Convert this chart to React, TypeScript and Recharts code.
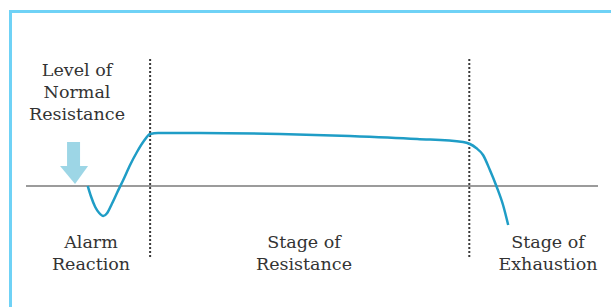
import React from 'react';
import { LineChart, Line, XAxis, YAxis, ReferenceLine, ReferenceDot } from 'recharts';

// time (arbitrary units, 0-100) and resistance relative to the normal level (0)
const time = [10.8, 11.4, 12.1, 12.8, 13.5, 14.2, 15.0, 15.9, 17.0, 18.2, 19.4, 20.6, 21.7, 23.1, 30.4, 44.4, 56.6, 68.4, 76.4, 77.6, 78.7, 79.9, 81.1, 82.3, 83.4, 84.3];
const resistance = [0, -11, -21, -27, -30, -27, -18, -7, 6, 21, 34, 45, 52, 53, 53, 52, 50, 47, 44, 42, 38, 31, 16, -1, -19, -39];

// stage boundaries on the time axis
const stageBounds = [21.7, 77.5];

const data = time.map((t, i) => ({ t, r: resistance[i] }));

const labelStyle: React.CSSProperties = {
  position: 'absolute',
  width: 140,
  textAlign: 'center',
  fontFamily: '"DejaVu Serif", serif',
  fontSize: 17.5,
  lineHeight: '22px',
  color: '#333',
};

const Arrow = (props: any) => {
  const { cx, cy } = props;
  return (
    <g opacity={0.7} fill="#74c6dc">
      <rect x={cx - 7} y={cy - 23} width={13} height={26} />
      <polygon points={`${cx - 14},${cy + 1} ${cx + 14},${cy + 1} ${cx + 1},${cy + 19}`} />
    </g>
  );
};

export default function App() {
  return (
    <div style={{ position: 'absolute', left: 0, top: 0, width: 611, height: 307, background: '#fff', overflow: 'hidden' }}>
      <div
        style={{
          position: 'absolute',
          left: 9,
          top: 10,
          width: 602,
          height: 297,
          borderTop: '3px solid #6fd2f6',
          borderLeft: '3px solid #6fd2f6',
          boxSizing: 'border-box',
        }}
      />
      <div style={{ position: 'absolute', left: 0, top: 0 }}>
        <LineChart width={611} height={307} data={data} margin={{ top: 57, right: 13, bottom: 50, left: 26 }}>
          <XAxis dataKey="t" type="number" domain={[0, 100]} hide />
          <YAxis type="number" domain={[-71, 129]} hide />
          <ReferenceLine y={0} stroke="#7a7a7a" strokeWidth={1.5} />
          {stageBounds.map((b) => (
            <ReferenceLine key={b} x={b} stroke="#3a3a3a" strokeWidth={2} strokeDasharray="2 2" />
          ))}
          <ReferenceDot x={8.4} y={21} r={1} shape={<Arrow />} />
          <Line
            type="monotone"
            dataKey="r"
            stroke="#1f9dc6"
            strokeWidth={2.5}
            dot={false}
            isAnimationActive={false}
          />
        </LineChart>
      </div>
      <div style={{ ...labelStyle, left: 7, top: 59 }}>Level of<br />Normal<br />Resistance</div>
      <div style={{ ...labelStyle, left: 21, top: 231 }}>Alarm<br />Reaction</div>
      <div style={{ ...labelStyle, left: 234, top: 231 }}>Stage of<br />Resistance</div>
      <div style={{ ...labelStyle, left: 478, top: 231 }}>Stage of<br />Exhaustion</div>
    </div>
  );
}
